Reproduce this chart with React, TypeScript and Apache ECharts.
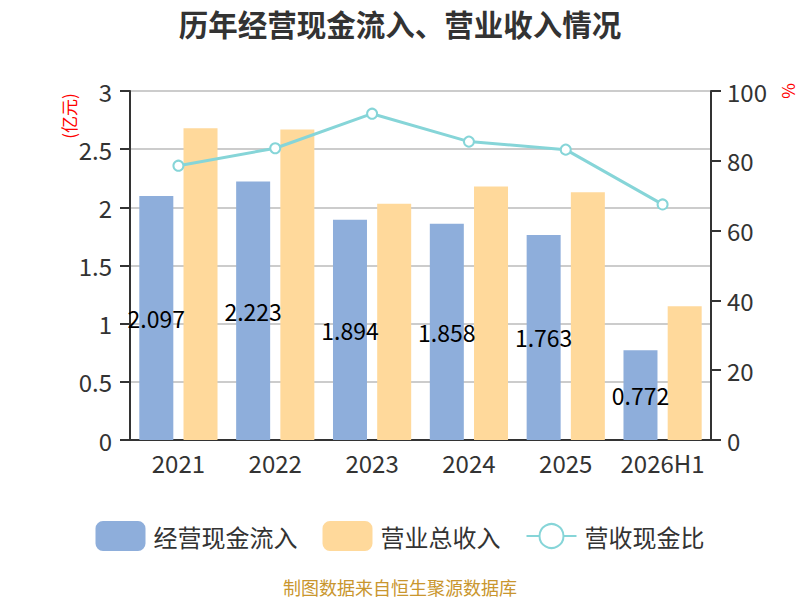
import React, { useEffect, useRef } from "react";
import * as echarts from "echarts";

const categories = ["2021", "2022", "2023", "2024", "2025", "2026H1"];
const cashInflow = [2.097, 2.223, 1.894, 1.858, 1.763, 0.772];
const revenue = [2.68, 2.67, 2.03, 2.18, 2.13, 1.15];
const ratio = [78.6, 83.6, 93.5, 85.5, 83.2, 67.5];

const FONT = "'Noto Sans CJK SC', 'Noto Sans', sans-serif";

export default function App() {
  const ref = useRef<HTMLDivElement>(null);
  useEffect(() => {
    if (!ref.current) return;
    const chart = echarts.init(ref.current, undefined, { renderer: "svg" });
    chart.setOption({
      animation: false,
      textStyle: { fontFamily: FONT },
      title: {
        text: "历年经营现金流入、营业收入情况",
        left: "center",
        top: 3,
        textStyle: { fontSize: 29.5, fontWeight: "bold", color: "#333", fontFamily: FONT },
      },
      grid: { left: 130, right: 89, top: 91, bottom: 160 },
      legend: {
        top: 516,
        left: "center",
        itemWidth: 50,
        itemHeight: 30,
        itemGap: 25,
        textStyle: { fontSize: 24, color: "#333", fontFamily: FONT, padding: [0, 0, 0, 3] },
        data: [
          { name: "经营现金流入", icon: "roundRect" },
          { name: "营业总收入", icon: "roundRect" },
          { name: "营收现金比" },
        ],
      },
      xAxis: {
        type: "category",
        data: categories,
        axisLine: { lineStyle: { color: "#333", width: 2 } },
        axisTick: { lineStyle: { color: "#333", width: 2 }, length: 8 },
        axisLabel: { fontSize: 24, color: "#333", margin: 10, interval: 0 },
      },
      yAxis: [
        {
          type: "value",
          min: 0,
          max: 3,
          interval: 0.5,
          axisLine: { show: true, lineStyle: { color: "#333", width: 2 } },
          axisTick: { show: true, lineStyle: { color: "#333", width: 2 }, length: 10 },
          axisLabel: { fontSize: 24, color: "#333", margin: 18 },
          splitLine: { lineStyle: { color: "#ccc", width: 2 } },
        },
        {
          type: "value",
          min: 0,
          max: 100,
          interval: 20,
          axisLine: { show: true, lineStyle: { color: "#333", width: 2 } },
          axisTick: { show: true, lineStyle: { color: "#333", width: 2 }, length: 10 },
          axisLabel: { fontSize: 24, color: "#333", margin: 16 },
          splitLine: { show: false },
        },
      ],
      series: [
        {
          name: "经营现金流入",
          type: "bar",
          data: cashInflow,
          barWidth: 34,
          barGap: "30%",
          itemStyle: { color: "#8eaedb" },
          label: {
            show: true,
            position: "inside",
            color: "#000",
            fontSize: 23,
            fontFamily: FONT,
          },
        },
        {
          name: "营业总收入",
          type: "bar",
          data: revenue,
          barWidth: 34,
          barGap: "30%",
          itemStyle: { color: "#ffd99b" },
        },
        {
          name: "营收现金比",
          type: "line",
          yAxisIndex: 1,
          data: ratio,
          symbol: "emptyCircle",
          symbolSize: 10,
          lineStyle: { color: "#86d5d8", width: 3 },
          itemStyle: { color: "#86d5d8", borderWidth: 2 },
        },
      ],
      graphic: [
        {
          type: "text",
          x: 68,
          y: 116,
          rotation: Math.PI / 2,
          style: {
            text: "(亿元)",
            fill: "#ff0000",
            fontSize: 17,
            fontFamily: FONT,
            align: "center",
            verticalAlign: "middle",
          },
        },
        {
          type: "text",
          x: 787,
          y: 91,
          rotation: Math.PI / 2,
          style: {
            text: "%",
            fill: "#ff0000",
            fontSize: 17,
            fontFamily: FONT,
            align: "center",
            verticalAlign: "middle",
          },
        },
        {
          type: "text",
          x: 400,
          y: 587,
          style: {
            text: "制图数据来自恒生聚源数据库",
            fill: "#c9962e",
            fontSize: 18,
            fontFamily: FONT,
            align: "center",
            verticalAlign: "middle",
          },
        },
      ],
    });
    return () => chart.dispose();
  }, []);
  return <div ref={ref} style={{ width: 800, height: 600, position: "absolute", left: 0, top: 0 }} />;
}
